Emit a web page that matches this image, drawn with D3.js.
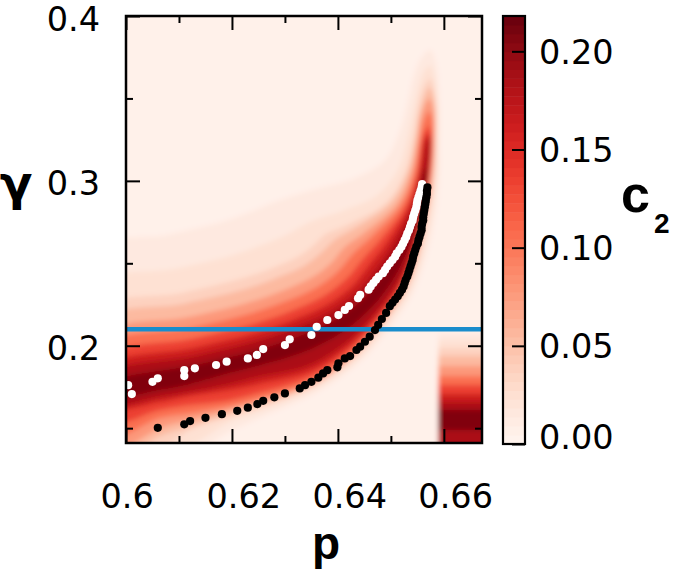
<!DOCTYPE html>
<html>
<head>
<meta charset="utf-8">
<script src="https://cdnjs.cloudflare.com/ajax/libs/d3/7.8.5/d3.min.js"></script>
<style>
  body { margin: 0; background: #fff; }
  text { font-family: 'DejaVu Sans', sans-serif; fill: #000; }
</style>
</head>
<body>
<div id="chart"></div>
<script>
// c2 iso-levels of the heat map, and the closed outline (p, gamma) of each level
const levels = [0.011, 0.018, 0.03, 0.045, 0.065, 0.09, 0.12, 0.15, 0.175, 0.195]
const cMax = 0.218

const band011 = [[0.5914,0.2559],[0.6080,0.2675],[0.6179,0.2750],[0.6232,0.2809],[0.6291,0.2885],[0.6366,0.2958],[0.6432,0.3018],[0.6489,0.3128],[0.6517,0.3310],[0.6532,0.3492],[0.6543,0.3644],[0.6557,0.3747],[0.6574,0.3795],
  [0.6585,0.3723],[0.6592,0.3492],[0.6592,0.3243],[0.6592,0.3023],[0.6585,0.2797],[0.6566,0.2527],[0.6542,0.2317],[0.6503,0.2127],[0.6445,0.1907],[0.6364,0.1722],[0.6249,0.1555],[0.6196,0.1476],[0.6158,0.1397],[0.6102,0.1245],[0.5970,0.1063]]
const band018 = [[0.5928,0.2351],[0.6095,0.2468],[0.6198,0.2546],[0.6256,0.2611],[0.6302,0.2672],[0.6347,0.2751],[0.6413,0.2824],[0.6475,0.2915],[0.6513,0.3067],[0.6530,0.3249],[0.6542,0.3431],[0.6553,0.3583],[0.6562,0.3662],[0.6574,0.3698],
  [0.6583,0.3613],[0.6589,0.3431],[0.6589,0.3245],[0.6587,0.3026],[0.6578,0.2803],[0.6559,0.2537],[0.6536,0.2330],[0.6497,0.2144],[0.6441,0.1928],[0.6361,0.1745],[0.6249,0.1597],[0.6196,0.1537],[0.6130,0.1409],[0.6064,0.1318],[0.5970,0.1154]]
const band030 = [[0.5938,0.2203],[0.6106,0.2320],[0.6211,0.2401],[0.6274,0.2469],[0.6326,0.2542],[0.6355,0.2612],[0.6377,0.2678],[0.6415,0.2730],[0.6492,0.2871],[0.6527,0.3052],[0.6543,0.3254],[0.6551,0.3431],[0.6560,0.3553],[0.6574,0.3619],
  [0.6582,0.3522],[0.6586,0.3245],[0.6583,0.3029],[0.6572,0.2807],[0.6554,0.2543],[0.6531,0.2340],[0.6493,0.2157],[0.6438,0.1944],[0.6359,0.1762],[0.6249,0.1622],[0.6196,0.1567],[0.6121,0.1488],[0.6083,0.1409],[0.6036,0.1336],[0.5970,0.1215]]
const band045 = [[0.5942,0.2137],[0.6110,0.2255],[0.6217,0.2336],[0.6281,0.2407],[0.6337,0.2485],[0.6369,0.2565],[0.6394,0.2642],[0.6434,0.2715],[0.6500,0.2865],[0.6532,0.3049],[0.6546,0.3253],[0.6556,0.3431],[0.6573,0.3565],
  [0.6582,0.3492],[0.6584,0.3246],[0.6580,0.3030],[0.6568,0.2810],[0.6551,0.2548],[0.6528,0.2347],[0.6491,0.2166],[0.6436,0.1954],[0.6358,0.1773],[0.6249,0.1640],[0.6196,0.1591],[0.6121,0.1512],[0.6064,0.1452],[0.6026,0.1379],[0.5970,0.1276]]
const band065 = [[0.5948,0.2054],[0.6116,0.2172],[0.6224,0.2255],[0.6291,0.2328],[0.6350,0.2412],[0.6388,0.2504],[0.6412,0.2596],[0.6450,0.2684],[0.6511,0.2856],[0.6538,0.3047],[0.6551,0.3253],[0.6558,0.3401],[0.6572,0.3498],
  [0.6580,0.3431],[0.6581,0.3247],[0.6577,0.3031],[0.6566,0.2812],[0.6548,0.2552],[0.6526,0.2352],[0.6489,0.2172],[0.6434,0.1962],[0.6357,0.1781],[0.6249,0.1658],[0.6196,0.1610],[0.6121,0.1549],[0.6064,0.1500],[0.6008,0.1397],[0.5970,0.1336]]
const band090 = [[0.5952,0.1989],[0.6121,0.2107],[0.6230,0.2191],[0.6298,0.2265],[0.6361,0.2355],[0.6402,0.2456],[0.6429,0.2559],[0.6465,0.2664],[0.6519,0.2850],[0.6544,0.3045],[0.6555,0.3252],[0.6562,0.3358],[0.6572,0.3419],
  [0.6578,0.3370],[0.6579,0.3247],[0.6575,0.3032],[0.6563,0.2814],[0.6546,0.2556],[0.6523,0.2357],[0.6487,0.2179],[0.6433,0.1970],[0.6356,0.1790],[0.6249,0.1676],[0.6196,0.1634],[0.6121,0.1591],[0.6064,0.1561],[0.5970,0.1452]]
const band120 = [[0.5957,0.1923],[0.6126,0.2042],[0.6235,0.2127],[0.6306,0.2203],[0.6372,0.2298],[0.6417,0.2409],[0.6446,0.2522],[0.6480,0.2643],[0.6527,0.2843],[0.6549,0.3042],[0.6559,0.3251],[0.6564,0.3298],[0.6572,0.3328],
  [0.6577,0.3248],[0.6573,0.3033],[0.6561,0.2815],[0.6543,0.2559],[0.6520,0.2364],[0.6484,0.2189],[0.6429,0.1988],[0.6352,0.1817],[0.6249,0.1713],[0.6196,0.1670],[0.6121,0.1640],[0.6064,0.1610],[0.5970,0.1537]]
const band150 = [[0.5960,0.1870],[0.6129,0.1988],[0.6240,0.2074],[0.6312,0.2152],[0.6381,0.2251],[0.6429,0.2369],[0.6460,0.2492],[0.6493,0.2626],[0.6533,0.2838],[0.6553,0.3041],[0.6563,0.3250],[0.6572,0.3285],
  [0.6575,0.3248],[0.6572,0.3033],[0.6560,0.2817],[0.6541,0.2562],[0.6517,0.2370],[0.6480,0.2200],[0.6426,0.2009],[0.6349,0.1846],[0.6249,0.1767],[0.6196,0.1731],[0.6121,0.1695],[0.6064,0.1658],[0.5970,0.1622]]
const band175 = [[0.5963,0.1823],[0.6133,0.1941],[0.6245,0.2028],[0.6317,0.2107],[0.6388,0.2209],[0.6439,0.2335],[0.6473,0.2465],[0.6504,0.2611],[0.6539,0.2834],[0.6557,0.3039],[0.6568,0.3243],[0.6571,0.3261],
  [0.6573,0.3243],[0.6570,0.3034],[0.6558,0.2818],[0.6538,0.2566],[0.6513,0.2379],[0.6476,0.2213],[0.6421,0.2032],[0.6345,0.1880],[0.6249,0.1810],[0.6196,0.1767],[0.6121,0.1719],[0.6064,0.1689],[0.5970,0.1646]]
const band195 = [[0.5967,0.1769],[0.6137,0.1888],[0.6249,0.1975],[0.6324,0.2056],[0.6397,0.2162],[0.6451,0.2296],[0.6487,0.2435],[0.6517,0.2594],[0.6546,0.2828],[0.6561,0.3038],[0.6565,0.3079],
  [0.6567,0.3035],[0.6554,0.2821],[0.6531,0.2574],[0.6504,0.2398],[0.6467,0.2243],[0.6411,0.2087],[0.6335,0.1960],[0.6249,0.1877],[0.6196,0.1834],[0.6121,0.1767],[0.6064,0.1731],[0.5970,0.1689]]
const bandContours = [band011, band018, band030, band045, band065, band090, band120, band150, band175, band195]

// the block in the lower right corner: left edge and gamma range of each level
const blockLeft = 0.659
const blockRight = 0.672
const blockTop = [0.2077, 0.2035, 0.1986, 0.1937, 0.1877, 0.1816, 0.1761, 0.1707, 0.1658, 0.1610]
const blockBottom = [0.13, 0.13, 0.13, 0.13, 0.13, 0.13, 0.13, 0.13, 0.13, 0.1488]

// markers (p, gamma)
const whiteDots = [[0.6004,0.1761],[0.6011,0.1707],[0.6050,0.1781],[0.6060,0.1802],[0.6110,0.1816],[0.6110,0.1852],[0.6130,0.1863],[0.6170,0.1883],[0.6190,0.1903],[0.6230,0.1923],[0.6247,0.1944],[0.6259,0.1980],[0.6300,0.2004],[0.6309,0.2039],[0.6350,0.2065],[0.6360,0.2115],[0.6380,0.2156],[0.6401,0.2186],[0.6413,0.2217],[0.6421,0.2241],[0.6438,0.2288],[0.6442,0.2308],
  [0.6458,0.234],[0.6462,0.236],[0.6467,0.238],[0.6472,0.240],[0.6477,0.242],[0.6485,0.244],[0.6489,0.246],[0.6493,0.248],[0.6498,0.250],[0.6503,0.252],[0.6508,0.254],[0.6511,0.256],[0.6516,0.258],[0.6520,0.260],[0.6523,0.262],[0.6526,0.264],[0.6529,0.266],[0.6531,0.268],[0.6534,0.270],[0.6536,0.272],[0.6538,0.274],[0.6541,0.276],[0.6542,0.278],[0.6544,0.280],[0.6546,0.282],[0.6548,0.284],[0.6549,0.286],[0.6550,0.288],[0.6552,0.290],[0.6554,0.292],[0.6556,0.294],[0.6558,0.296],[0.6559,0.298]]
const blackDots = [[0.6060,0.1502],[0.6110,0.1523],[0.6121,0.1543],[0.6150,0.1563],[0.6181,0.1585],[0.6210,0.1605],[0.6230,0.1624],[0.6248,0.1646],[0.6259,0.1666],[0.6280,0.1687],[0.6300,0.1711],[0.6328,0.1741],[0.6338,0.1761],[0.6350,0.1781],[0.6363,0.1806],[0.6372,0.1832],[0.6380,0.1852],[0.6399,0.1869],[0.6401,0.1893],[0.6413,0.1923],[0.6423,0.1937],[0.6435,0.1974],[0.6442,0.1994],[0.6451,0.2024],[0.6460,0.2055],[0.6470,0.2095],[0.6476,0.2126],[0.6483,0.2162],[0.6491,0.2199],
  [0.6498,0.224],[0.6503,0.226],[0.6508,0.228],[0.6513,0.230],[0.6517,0.232],[0.6521,0.234],[0.6524,0.236],[0.6526,0.238],[0.6528,0.240],[0.6531,0.242],[0.6533,0.244],[0.6535,0.246],[0.6537,0.248],[0.6539,0.250],[0.6541,0.252],[0.6542,0.254],[0.6544,0.256],[0.6546,0.258],[0.6548,0.260],[0.6551,0.262],[0.6552,0.264],[0.6554,0.266],[0.6556,0.268],[0.6558,0.270],[0.6558,0.272],[0.6559,0.274],[0.6561,0.276],[0.6561,0.278],[0.6562,0.280],[0.6563,0.282],[0.6564,0.284],[0.6565,0.286],[0.6566,0.288],[0.6567,0.290],[0.6568,0.292],[0.6568,0.294],[0.6569,0.296]]

const gammaLine = 0.21

// ticks
const xMajor = [0.6, 0.62, 0.64, 0.66]
const xMinor = [0.61, 0.63, 0.65]
const yMajor = [0.2, 0.3, 0.4]
const yMinor = [0.15, 0.25, 0.35]
const cbTicks = [0, 0.05, 0.1, 0.15, 0.2]

function draw(){
    //Dimensions
    let dims = {
        width: 675,
        height: 572,
        margin: { top: 16, left: 126 },
        ctrWidth: 356,
        ctrHeight: 427
    }
    const fontSize = 33.5

    //Scales
    const xScale = d3.scaleLinear().domain([0.6, 0.6672]).range([0, dims.ctrWidth])
    const yScale = d3.scaleLinear().domain([0.141, 0.4]).range([dims.ctrHeight, 0])
    const color = d3.scaleSequential(d3.interpolateReds).domain([0, cMax])

    const svg = d3.select('#chart')
        .append('svg')
        .attr('width', dims.width)
        .attr('height', dims.height)

    const defs = svg.append('defs')
    defs.append('clipPath').attr('id', 'plotClip')
        .append('rect')
        .attr('width', dims.ctrWidth)
        .attr('height', dims.ctrHeight)
    defs.append('filter').attr('id', 'soften')
        .append('feGaussianBlur').attr('stdDeviation', 2.8)

    const ctr = svg.append('g')
        .attr('transform', `translate(${dims.margin.left}, ${dims.margin.top})`)

    // Heat map: nested level regions, softened
    const heat = ctr.append('g')
        .attr('clip-path', 'url(#plotClip)')
        .append('g')
        .attr('filter', 'url(#soften)')

    heat.append('rect')
        .attr('x', -30).attr('y', -30)
        .attr('width', dims.ctrWidth + 60)
        .attr('height', dims.ctrHeight + 60)
        .attr('fill', color(0.005))

    const outline = d3.line()
        .x(d => xScale(d[0]))
        .y(d => yScale(d[1]))
        .curve(d3.curveCatmullRomClosed.alpha(0.5))

    levels.forEach((lv, k) => {
        const next = k < levels.length - 1 ? levels[k + 1] : cMax
        const fill = color((lv + next) / 2)
        heat.append('path')
            .attr('d', outline(bandContours[k]))
            .attr('fill', fill)
        heat.append('rect')
            .attr('x', xScale(blockLeft))
            .attr('width', xScale(blockRight) - xScale(blockLeft))
            .attr('y', yScale(blockTop[k]))
            .attr('height', yScale(blockBottom[k]) - yScale(blockTop[k]))
            .attr('fill', fill)
    })

    // Markers
    const marks = ctr.append('g').attr('clip-path', 'url(#plotClip)')
    marks.append('line')
        .attr('x1', 0).attr('x2', dims.ctrWidth)
        .attr('y1', yScale(gammaLine)).attr('y2', yScale(gammaLine))
        .attr('stroke', '#1a8dcc')
        .attr('stroke-width', 4.5)
    marks.selectAll('circle.white')
        .data(whiteDots)
        .join('circle')
        .attr('class', 'white')
        .attr('cx', d => xScale(d[0]))
        .attr('cy', d => yScale(d[1]))
        .attr('r', 4.1)
        .attr('fill', '#fff')
    marks.selectAll('circle.black')
        .data(blackDots)
        .join('circle')
        .attr('class', 'black')
        .attr('cx', d => xScale(d[0]))
        .attr('cy', d => yScale(d[1]))
        .attr('r', 4.1)
        .attr('fill', '#000')

    // Axes, ticks pointing inwards on all four sides
    const styleAxis = g => {
        g.select('.domain').remove()
        g.selectAll('line').attr('stroke-width', 2)
        g.attr('font-size', fontSize).attr('font-family', 'DejaVu Sans')
    }
    const fmt = d3.format('')

    ctr.append('g')
        .attr('transform', `translate(0, ${dims.ctrHeight})`)
        .call(d3.axisBottom(xScale).tickValues(xMajor).tickSize(-14).tickFormat(fmt))
        .call(styleAxis)
        .call(g => g.selectAll('text')
            .attr('text-anchor', 'start')
            .attr('x', -26)
            .attr('y', 65)
            .attr('dy', null))
    ctr.append('g')
        .attr('transform', `translate(0, ${dims.ctrHeight})`)
        .call(d3.axisBottom(xScale).tickValues(xMinor).tickSize(-7).tickFormat(''))
        .call(styleAxis)
    ctr.append('g')
        .call(d3.axisTop(xScale).tickValues(xMajor).tickSize(-14).tickFormat(''))
        .call(styleAxis)
    ctr.append('g')
        .call(d3.axisTop(xScale).tickValues(xMinor).tickSize(-7).tickFormat(''))
        .call(styleAxis)

    ctr.append('g')
        .call(d3.axisLeft(yScale).tickValues(yMajor).tickSize(-14).tickFormat(fmt))
        .call(styleAxis)
        .call(g => g.selectAll('text')
            .attr('x', -26)
            .attr('y', 14)
            .attr('dy', null))
    ctr.append('g')
        .call(d3.axisLeft(yScale).tickValues(yMinor).tickSize(-7).tickFormat(''))
        .call(styleAxis)
    ctr.append('g')
        .attr('transform', `translate(${dims.ctrWidth}, 0)`)
        .call(d3.axisRight(yScale).tickValues(yMajor).tickSize(-14).tickFormat(''))
        .call(styleAxis)
    ctr.append('g')
        .attr('transform', `translate(${dims.ctrWidth}, 0)`)
        .call(d3.axisRight(yScale).tickValues(yMinor).tickSize(-7).tickFormat(''))
        .call(styleAxis)

    ctr.append('rect')
        .attr('width', dims.ctrWidth)
        .attr('height', dims.ctrHeight)
        .attr('fill', 'none')
        .attr('stroke', '#000')
        .attr('stroke-width', 2.5)

    // Axis titles
    svg.append('text')
        .attr('x', 16).attr('y', 200)
        .attr('text-anchor', 'middle')
        .attr('font-size', 48)
        .attr('font-weight', 'bold')
        .text('γ')
    svg.append('text')
        .attr('x', 326).attr('y', 559)
        .attr('text-anchor', 'middle')
        .attr('font-size', 46)
        .attr('font-weight', 'bold')
        .style('font-family', "'Liberation Sans', Arial, sans-serif")
        .text('p')

    // Colorbar
    const cbW = 22
    const cb = svg.append('g').attr('transform', `translate(503, ${dims.margin.top})`)
    const cbScale = d3.scaleLinear().domain([0, cMax]).range([dims.ctrHeight + 1, 0])
    const nSteps = 48
    cb.selectAll('rect.step')
        .data(d3.range(nSteps))
        .join('rect')
        .attr('class', 'step')
        .attr('x', 0)
        .attr('width', cbW)
        .attr('y', i => cbScale((i + 1) * cMax / nSteps))
        .attr('height', i => cbScale(i * cMax / nSteps) - cbScale((i + 1) * cMax / nSteps) + 0.5)
        .attr('fill', i => color((i + 0.5) * cMax / nSteps))
    cb.append('rect')
        .attr('width', cbW)
        .attr('height', dims.ctrHeight + 1)
        .attr('fill', 'none')
        .attr('stroke', '#000')
        .attr('stroke-width', 2.2)
    const cbBottom = dims.ctrHeight + 1
    cb.append('g')
        .attr('transform', `translate(${cbW}, 0)`)
        .call(d3.axisRight(cbScale).tickValues(cbTicks).tickSize(-13).tickFormat(d3.format('.2f')))
        .call(styleAxis)
        .call(g => g.selectAll('text')
            .attr('x', 14)
            .attr('dy', null)
            .attr('y', d => Math.min(12, cbBottom + 4 - cbScale(d))))

    const cLabel = svg.append('text')
        .attr('x', 621).attr('y', 212)
        .attr('font-size', 52)
        .attr('font-weight', 'bold')
        .style('font-family', "'Liberation Sans', Arial, sans-serif")
    cLabel.append('tspan').text('c')
    cLabel.append('tspan')
        .attr('font-size', 28)
        .attr('dx', 4)
        .attr('dy', 21)
        .text('2')
}
draw()
</script>
</body>
</html>
